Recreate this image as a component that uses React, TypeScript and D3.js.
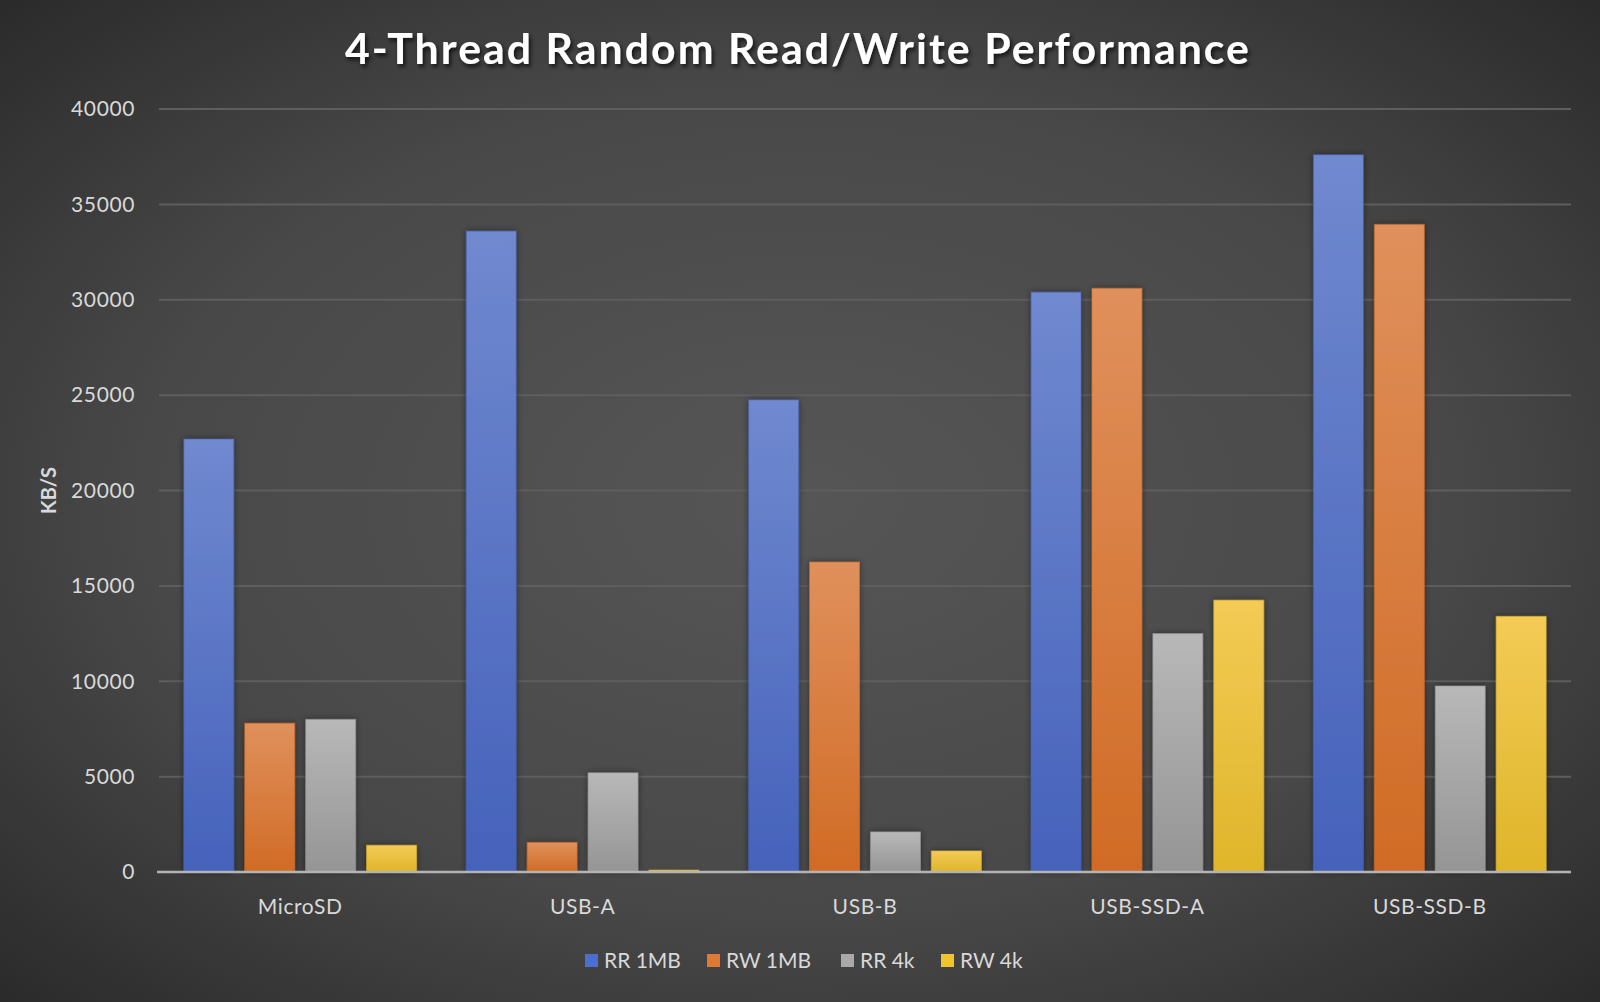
import React from "react";
import * as d3 from "d3";

const categories = ["MicroSD", "USB-A", "USB-B", "USB-SSD-A", "USB-SSD-B"];
const seriesNames = ["RR 1MB", "RW 1MB", "RR 4k", "RW 4k"];
const rr1mb = [22700, 33600, 24750, 30400, 37600];
const rw1mb = [7800, 1550, 16250, 30600, 33950];
const rr4k = [8000, 5200, 2100, 12500, 9750];
const rw4k = [1400, 100, 1100, 14250, 13400];
const yTicks = [0, 5000, 10000, 15000, 20000, 25000, 30000, 35000, 40000];
const seriesValues = [rr1mb, rw1mb, rr4k, rw4k];

const topColors = ["#7089cf", "#e0905c", "#b8b8b8", "#f3cb55"];
const bottomColors = ["#4562bb", "#d06b25", "#959595", "#dfb52a"];
const legendColors = ["#4a6fd0", "#de7a34", "#a9a9a9", "#f0c52c"];

const W = 1600;
const H = 1002;
const margin = { left: 159, right: 29, top: 109, bottom: 130 };

export default function App() {
  const x0 = d3
    .scaleBand<string>()
    .domain(categories)
    .range([margin.left, W - margin.right])
    .paddingInner(0.176)
    .paddingOuter(0.088);
  const x1 = d3
    .scaleBand<string>()
    .domain(seriesNames)
    .range([0, x0.bandwidth()])
    .paddingInner(0.18);
  const y = d3.scaleLinear().domain([0, 40000]).range([H - 130, 109]);

  const font = "Lato, 'Open Sans', sans-serif";
  const legendX = [585, 707, 841, 941];

  return (
    <div style={{ position: "absolute", left: 0, top: 0 }}>
      <svg width={W} height={H} style={{ display: "block" }}>
        <defs>
          <radialGradient id="bg" cx="0.5" cy="0.5" r="0.75">
            <stop offset="0" stopColor="#565656" />
            <stop offset="0.55" stopColor="#484848" />
            <stop offset="1" stopColor="#262626" />
          </radialGradient>
          {seriesNames.map((s, i) => (
            <linearGradient key={s} id={`g${i}`} x1="0" y1="0" x2="0" y2="1">
              <stop offset="0" stopColor={topColors[i]} />
              <stop offset="1" stopColor={bottomColors[i]} />
            </linearGradient>
          ))}
          <filter id="shadow" x="-20%" y="-20%" width="140%" height="140%">
            <feDropShadow dx="0" dy="0" stdDeviation="3" floodColor="#000" floodOpacity="0.45" />
          </filter>
          <filter id="tshadow" x="-10%" y="-30%" width="120%" height="170%">
            <feDropShadow dx="2" dy="3" stdDeviation="2" floodColor="#000" floodOpacity="0.7" />
          </filter>
        </defs>
        <rect x={0} y={0} width={W} height={H} fill="url(#bg)" />

        <text
          x={798}
          y={64}
          textAnchor="middle"
          fontFamily={font}
          fontWeight="bold"
          fontSize={42}
          letterSpacing={2}
          fill="#ffffff"
          textLength={906}
          lengthAdjust="spacingAndGlyphs"
          filter="url(#tshadow)"
        >
          4-Thread Random Read/Write Performance
        </text>

        {yTicks.map((t) => (
          <g key={t}>
            {t > 0 && (
              <line
                x1={margin.left}
                x2={W - margin.right}
                y1={y(t)}
                y2={y(t)}
                stroke="#5e5e5e"
                strokeWidth={2}
              />
            )}
            <text
              x={135}
              y={y(t)}
              dy="0.35em"
              textAnchor="end"
              fontFamily={font}
              fontSize={21}
              letterSpacing={0.6}
              fill="#d9d9d9"
            >
              {t}
            </text>
          </g>
        ))}

        <text
          transform={`translate(56, ${(y(0) + y(40000)) / 2}) rotate(-90)`}
          textAnchor="middle"
          fontFamily={font}
          fontWeight="bold"
          fontSize={20}
          fill="#d9d9d9"
        >
          KB/S
        </text>

        {categories.map((c, ci) => (
          <g key={c} transform={`translate(${x0(c)},0)`}>
            {seriesNames.map((s, si) => {
              const v = seriesValues[si][ci];
              const top = y(v);
              return (
                <rect
                  key={s}
                  x={x1(s)}
                  y={top}
                  width={x1.bandwidth()}
                  height={y(0) - top}
                  fill={`url(#g${si})`}
                  stroke={bottomColors[si]}
                  strokeOpacity={0.6}
                  strokeWidth={1}
                  filter="url(#shadow)"
                />
              );
            })}
            <text
              x={x0.bandwidth() / 2}
              y={914}
              textAnchor="middle"
              fontFamily={font}
              fontSize={21}
              letterSpacing={0.6}
              fill="#d9d9d9"
            >
              {c}
            </text>
          </g>
        ))}

        <line
          x1={margin.left - 2}
          x2={W - margin.right}
          y1={y(0)}
          y2={y(0)}
          stroke="#b4b4b4"
          strokeWidth={2.5}
        />

        {seriesNames.map((s, i) => (
          <g key={s} transform={`translate(${legendX[i]}, 961)`}>
            <rect x={0} y={-7} width={13} height={13} fill={legendColors[i]} />
            <text x={19} y={0} dy="0.35em" fontFamily={font} fontSize={21} fill="#d9d9d9">
              {s}
            </text>
          </g>
        ))}
      </svg>
    </div>
  );
}
